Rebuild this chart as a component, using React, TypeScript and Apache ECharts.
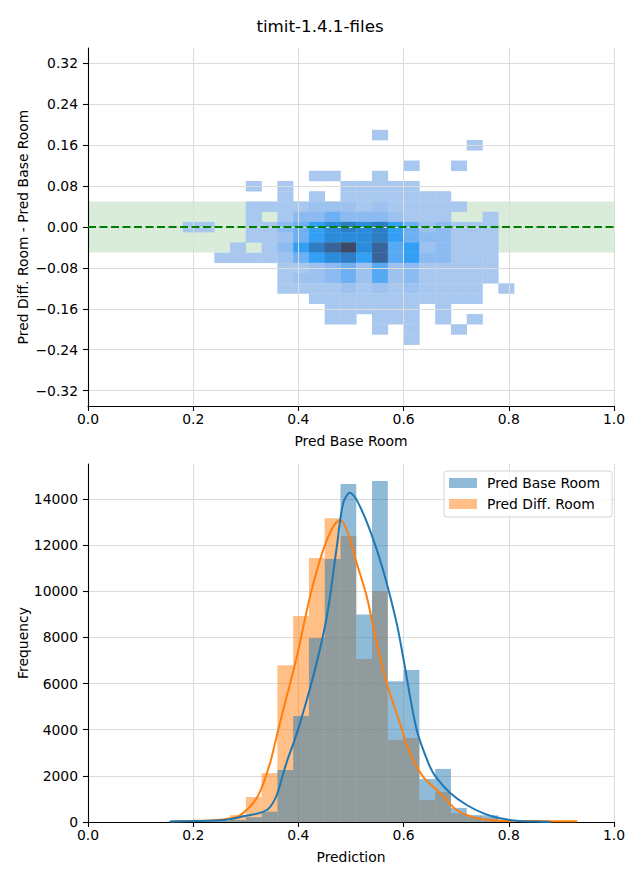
import React, { useEffect, useRef } from 'react';
import * as echarts from 'echarts';

const TITLE = 'timit-1.4.1-files';
const FONT = 'DejaVu Sans';

// ---- top panel: 2D histogram (density level per cell) ----
const X_BIN_START = 0.18;
const X_BIN_WIDTH = 0.03;
const Y_BIN_HEIGHT = 0.02;
const heatRowCenters = [0.18, 0.16, 0.14, 0.12, 0.1, 0.08, 0.06, 0.04, 0.02, 0.0, -0.02, -0.04, -0.06, -0.08, -0.1, -0.12, -0.14, -0.16, -0.18, -0.2, -0.22];
const heatRows = [
  [0,0,0,0,0,0,0,0,0,0,0,0,1,0,0,0,0,0,0,0,0],
  [0,0,0,0,0,0,0,0,0,0,0,0,0,0,0,0,0,0,1,0,0],
  [0,0,0,0,0,0,0,0,0,0,0,0,0,0,0,0,0,0,0,0,0],
  [0,0,0,0,0,0,0,0,0,0,0,0,0,0,1,0,0,1,0,0,0],
  [0,0,0,0,0,0,0,0,1,1,0,0,1,0,0,0,0,0,0,0,0],
  [0,0,0,0,1,0,1,0,0,0,1,1,1,1,1,0,0,0,0,0,0],
  [0,0,0,0,0,0,1,0,1,0,1,1,1,1,1,1,1,0,0,0,0],
  [0,0,0,0,1,1,1,1,2,2,2,1,2,1,1,1,1,1,0,0,0],
  [0,0,0,0,1,0,1,3,3,4,3,3,3,2,1,1,1,0,0,1,0],
  [1,1,0,0,1,1,3,4,6,7,8,7,8,6,4,2,3,1,1,1,0],
  [0,0,0,0,1,1,2,4,6,7,7,7,8,6,4,3,3,1,1,1,0],
  [0,0,0,1,0,1,3,6,8,9,10,7,9,5,6,2,3,1,1,1,0],
  [0,0,1,1,1,1,2,4,6,7,8,6,9,5,6,3,3,1,1,1,0],
  [0,0,0,0,0,0,1,1,2,3,4,2,5,2,3,1,1,1,1,1,0],
  [0,0,0,0,0,0,1,2,2,3,4,2,5,2,3,1,1,1,1,1,0],
  [0,0,0,0,0,0,1,1,1,1,2,1,2,1,2,1,1,1,1,0,1],
  [0,0,0,0,0,0,0,0,1,1,1,1,1,1,1,1,1,1,1,0,0],
  [0,0,0,0,0,0,0,0,0,1,1,1,1,1,1,0,1,0,0,0,0],
  [0,0,0,0,0,0,0,0,0,1,1,0,1,1,1,0,1,0,1,0,0],
  [0,0,0,0,0,0,0,0,0,0,0,0,1,0,1,0,0,1,0,0,0],
  [0,0,0,0,0,0,0,0,0,0,0,0,0,0,1,0,0,0,0,0,0],
];
const heatPalette = ['#a9c8ef', '#9dc2f0', '#8bbbf1', '#6eb0f3', '#56a9f3', '#33a0f5', '#2b8cdb', '#2f7dc4', '#37659b', '#3c4a68'];
const BAND_LOW = -0.05;
const BAND_HIGH = 0.05;

// ---- bottom panel: histograms ----
const histLeftEdges = [0.15, 0.18, 0.21, 0.24, 0.27, 0.3, 0.33, 0.36, 0.39, 0.42, 0.45, 0.48, 0.51, 0.54, 0.57, 0.6, 0.63, 0.66, 0.69, 0.72, 0.75, 0.78, 0.81, 0.84, 0.87, 0.9];
const baseRoomCounts = [10, 20, 20, 40, 90, 210, 450, 2250, 4600, 7975, 11400, 14650, 9000, 14780, 6100, 6590, 1860, 2300, 610, 300, 290, 60, 20, 10, 0, 0];
const diffRoomCounts = [10, 20, 30, 60, 300, 1080, 2120, 6800, 8930, 11440, 13170, 12400, 7065, 10010, 3550, 3640, 950, 1300, 380, 230, 150, 60, 30, 20, 10, 10];

const baseKdeX = [0.155, 0.2, 0.26, 0.298, 0.324, 0.34, 0.349, 0.359, 0.368, 0.378, 0.397, 0.428, 0.454, 0.473, 0.485, 0.498, 0.511, 0.536, 0.561, 0.587, 0.599, 0.625, 0.65, 0.663, 0.688, 0.72, 0.752, 0.783, 0.815, 0.85, 0.88];
const baseKdeY = [20, 40, 87, 260, 376, 520, 737, 1170, 1850, 2614, 3843, 6297, 8898, 11932, 13812, 14272, 13955, 12655, 10922, 8600, 7164, 3987, 2397, 1900, 1270, 737, 376, 159, 58, 20, 5];
const diffKdeX = [0.16, 0.2, 0.24, 0.26, 0.286, 0.311, 0.324, 0.333, 0.343, 0.349, 0.365, 0.397, 0.422, 0.447, 0.466, 0.479, 0.492, 0.511, 0.53, 0.549, 0.568, 0.593, 0.612, 0.637, 0.663, 0.682, 0.701, 0.733, 0.764, 0.796, 0.85, 0.93];
const diffKdeY = [30, 50, 80, 120, 250, 737, 1170, 1650, 2327, 2800, 4300, 7164, 9764, 11788, 12798, 13089, 12655, 11211, 9764, 7745, 6011, 4278, 2977, 1964, 1387, 953, 520, 202, 87, 43, 40, 30];

const topYTicks = [-0.32, -0.24, -0.16, -0.08, 0, 0.08, 0.16, 0.24, 0.32];
const bottomYTicks = [0, 2000, 4000, 6000, 8000, 10000, 12000, 14000];

const BLUE = '#1f77b4';
const ORANGE = '#ff7f0e';
const BLUE_FILL = 'rgba(31,119,180,0.5)';
const ORANGE_FILL = 'rgba(255,127,14,0.5)';

const fmtSigned = (v: number) => (v < 0 ? '\u2212' : '') + Math.abs(v).toFixed(2);

export default function App() {
  const ref = useRef<HTMLDivElement>(null);
  useEffect(() => {
    document.body.style.margin = '0';
    if (!ref.current) return;
    const chart = echarts.init(ref.current, null, { renderer: 'svg' });

    const heatData: number[][] = [];
    heatRows.forEach((row, r) => {
      row.forEach((lv, c) => {
        if (lv > 0) heatData.push([X_BIN_START + (c + 0.5) * X_BIN_WIDTH, heatRowCenters[r], lv]);
      });
    });
    const baseHist = histLeftEdges.map((e, i) => [e, e + X_BIN_WIDTH, baseRoomCounts[i]]);
    const diffHist = histLeftEdges.map((e, i) => [e, e + X_BIN_WIDTH, diffRoomCounts[i]]);
    const baseKde = baseKdeX.map((x, i) => [x, baseKdeY[i]]);
    const diffKde = diffKdeX.map((x, i) => [x, diffKdeY[i]]);

    const textStyle = { fontFamily: FONT, fontSize: 13.9, color: '#000' };
    const axisCommon = {
      axisLine: { onZero: false, lineStyle: { color: '#000', width: 1.1 } },
      axisTick: { length: 5, lineStyle: { color: '#000', width: 1.1 } },
      splitLine: { show: true, lineStyle: { color: '#dcdcdc', width: 1 } },
      nameLocation: 'middle' as const,
      nameMoveOverlap: false,
      nameTextStyle: textStyle,
    };

    const histRender = (fill: string) => (params: any, api: any) => {
      const p0 = api.coord([api.value(0), api.value(2)]);
      const p1 = api.coord([api.value(1), 0]);
      return {
        type: 'rect',
        shape: { x: p0[0], y: p0[1], width: p1[0] - p0[0], height: p1[1] - p0[1] },
        style: { fill },
      };
    };

    chart.setOption({
      animation: false,
      title: {
        text: TITLE,
        left: 'center',
        top: 17,
        padding: 0,
        textStyle: { fontFamily: FONT, fontSize: 16.7, fontWeight: 'normal', color: '#000' },
      },
      legend: {
        data: ['Pred Base Room', 'Pred Diff. Room'],
        orient: 'vertical',
        left: 444,
        top: 471,
        padding: [4, 12, 5, 5],
        itemGap: 5,
        itemWidth: 28,
        itemHeight: 10,
        icon: 'rect',
        borderColor: '#d4d4d4',
        borderWidth: 1,
        borderRadius: 3,
        backgroundColor: 'rgba(255,255,255,0.8)',
        textStyle: { ...textStyle, lineHeight: 16, padding: [0, 0, 0, 5] },
      },
      grid: [
        { left: 88, top: 48, width: 526, height: 358 },
        { left: 88, top: 464, width: 526, height: 358 },
      ],
      xAxis: [
        {
          ...axisCommon,
          type: 'value',
          gridIndex: 0,
          min: 0,
          max: 1,
          interval: 0.2,
          z: 3,
          name: 'Pred Base Room',
          nameGap: 28,
          axisLabel: { ...textStyle, margin: 6, formatter: (v: number) => v.toFixed(1) },
        },
        {
          ...axisCommon,
          type: 'value',
          gridIndex: 1,
          min: 0,
          max: 1,
          interval: 0.2,
          name: 'Prediction',
          nameGap: 28,
          axisLabel: { ...textStyle, margin: 6, formatter: (v: number) => v.toFixed(1) },
        },
      ],
      yAxis: [
        {
          ...axisCommon,
          type: 'value',
          gridIndex: 0,
          min: -0.35,
          max: 0.35,
          z: 3,
          name: 'Pred Diff. Room - Pred Base Room',
          nameGap: 58,
          axisTick: { ...axisCommon.axisTick, customValues: topYTicks },
          axisLabel: { ...textStyle, margin: 10, customValues: topYTicks, formatter: (v: number) => fmtSigned(v) },
        },
        {
          ...axisCommon,
          type: 'value',
          gridIndex: 1,
          min: 0,
          max: 15520,
          name: 'Frequency',
          nameGap: 58,
          axisTick: { ...axisCommon.axisTick, customValues: bottomYTicks },
          axisLabel: { ...textStyle, margin: 10, customValues: bottomYTicks, formatter: (v: number) => String(v) },
        },
      ],
      series: [
        {
          type: 'line',
          name: 'band',
          xAxisIndex: 0,
          yAxisIndex: 0,
          z: 1,
          silent: true,
          showSymbol: false,
          data: [[0, 0], [1, 0]],
          lineStyle: { width: 0, opacity: 0 },
          markArea: {
            silent: true,
            itemStyle: { color: 'rgba(0,128,0,0.15)' },
            data: [[{ xAxis: 0, yAxis: BAND_LOW }, { xAxis: 1, yAxis: BAND_HIGH }]],
          },
        },
        {
          type: 'custom',
          name: 'heat',
          xAxisIndex: 0,
          yAxisIndex: 0,
          z: 2,
          silent: true,
          encode: { x: 0, y: 1 },
          data: heatData,
          renderItem: (params: any, api: any) => {
            const xc = api.value(0);
            const yc = api.value(1);
            const lv = api.value(2);
            const p0 = api.coord([xc - X_BIN_WIDTH / 2, yc + Y_BIN_HEIGHT / 2]);
            const p1 = api.coord([xc + X_BIN_WIDTH / 2, yc - Y_BIN_HEIGHT / 2]);
            return {
              type: 'rect',
              shape: { x: p0[0], y: p0[1], width: p1[0] - p0[0] + 0.3, height: p1[1] - p0[1] + 0.3 },
              style: { fill: heatPalette[lv - 1] },
            };
          },
        },
        {
          type: 'line',
          name: 'zero',
          xAxisIndex: 0,
          yAxisIndex: 0,
          z: 5,
          silent: true,
          showSymbol: false,
          data: [[0, 0], [1, 0]],
          lineStyle: { color: '#008000', width: 2, type: [8, 3.5] },
        },
        {
          type: 'custom',
          name: 'Pred Diff. Room',
          xAxisIndex: 1,
          yAxisIndex: 1,
          z: 2,
          silent: true,
          itemStyle: { color: ORANGE_FILL },
          encode: { x: [0, 1], y: 2 },
          data: diffHist,
          renderItem: histRender(ORANGE_FILL),
        },
        {
          type: 'custom',
          name: 'Pred Base Room',
          xAxisIndex: 1,
          yAxisIndex: 1,
          z: 3,
          silent: true,
          itemStyle: { color: BLUE_FILL },
          encode: { x: [0, 1], y: 2 },
          data: baseHist,
          renderItem: histRender(BLUE_FILL),
        },
        {
          type: 'line',
          name: 'kde diff',
          xAxisIndex: 1,
          yAxisIndex: 1,
          z: 4,
          silent: true,
          showSymbol: false,
          smooth: 0.3,
          data: diffKde,
          lineStyle: { color: ORANGE, width: 2 },
          itemStyle: { color: ORANGE },
        },
        {
          type: 'line',
          name: 'kde base',
          xAxisIndex: 1,
          yAxisIndex: 1,
          z: 4,
          silent: true,
          showSymbol: false,
          smooth: 0.3,
          data: baseKde,
          lineStyle: { color: BLUE, width: 2 },
          itemStyle: { color: BLUE },
        },
      ],
    });
    return () => chart.dispose();
  }, []);
  return <div ref={ref} style={{ width: 640, height: 880 }} />;
}
